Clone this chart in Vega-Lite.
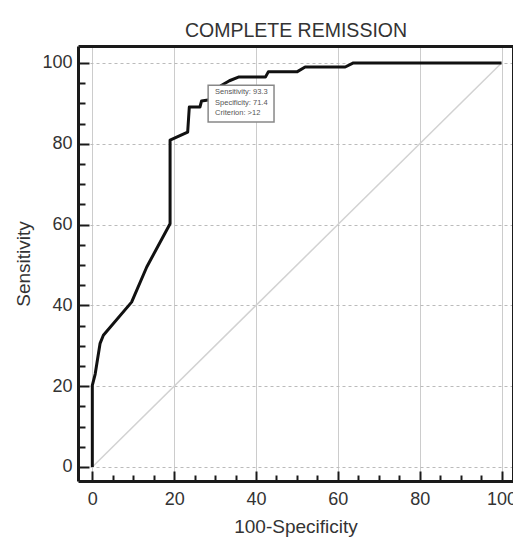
{
  "$schema": "https://vega.github.io/schema/vega-lite/v6.json",
  "autosize": "none",
  "width": 435,
  "height": 435,
  "padding": {"left": 78, "top": 46, "right": 0, "bottom": 58},
  "background": "white",
  "config": {
    "view": {"stroke": null},
    "font": "Liberation Sans"
  },
  "datasets": {
    "roc": [
      {"i": 0, "fpr": 0, "sens": 0},
      {"i": 1, "fpr": 0, "sens": 20.2},
      {"i": 2, "fpr": 0.7, "sens": 23},
      {"i": 3, "fpr": 1.9, "sens": 30.6},
      {"i": 4, "fpr": 2.7, "sens": 32.6},
      {"i": 5, "fpr": 9.6, "sens": 40.8},
      {"i": 6, "fpr": 13.3, "sens": 49.5},
      {"i": 7, "fpr": 19, "sens": 60.2},
      {"i": 8, "fpr": 19, "sens": 80.9},
      {"i": 9, "fpr": 23.3, "sens": 82.9},
      {"i": 10, "fpr": 23.7, "sens": 89.1},
      {"i": 11, "fpr": 26.3, "sens": 89.1},
      {"i": 12, "fpr": 26.7, "sens": 90.6},
      {"i": 13, "fpr": 28.7, "sens": 90.9},
      {"i": 14, "fpr": 30.5, "sens": 93.5},
      {"i": 15, "fpr": 31.6, "sens": 94.5},
      {"i": 16, "fpr": 33.5, "sens": 95.6},
      {"i": 17, "fpr": 35.7, "sens": 96.5},
      {"i": 18, "fpr": 42.3, "sens": 96.5},
      {"i": 19, "fpr": 43, "sens": 97.8},
      {"i": 20, "fpr": 50, "sens": 97.8},
      {"i": 21, "fpr": 52, "sens": 99},
      {"i": 22, "fpr": 61.8, "sens": 99},
      {"i": 23, "fpr": 63.8, "sens": 100},
      {"i": 24, "fpr": 100, "sens": 100}
    ],
    "diag": [
      {"fpr": 0, "sens": 0},
      {"fpr": 100, "sens": 100}
    ],
    "box": [
      {"x1": 28.3, "x2": 44.4, "y1": 85.4, "y2": 94.5}
    ],
    "boxText": [
      {"label": "Sensitivity: 93.3", "fpr": 30, "sens": 92.7},
      {"label": "Specificity: 71.4", "fpr": 30, "sens": 90.1},
      {"label": "Criterion: >12", "fpr": 30, "sens": 87.5}
    ]
  },
  "resolve": {"axis": {"x": "independent", "y": "independent"}},
  "layer": [
    {
      "data": {"name": "diag"},
      "mark": {"type": "line", "color": "#d2d2d2", "strokeWidth": 1.5},
      "encoding": {
        "x": {
          "field": "fpr", "type": "quantitative",
          "scale": {"domain": [-3.5, 102.8], "nice": false, "zero": false},
          "axis": {
            "orient": "bottom",
            "offset": -10,
            "title": "100-Specificity",
            "titleFontSize": 19,
            "titleFontWeight": "normal",
            "titleColor": "#333333",
            "titlePadding": 9,
            "values": [0, 20, 40, 60, 80, 100],
            "labelOverlap": false,
            "labelFontSize": 18,
            "labelColor": "#333333",
            "labelPadding": 9,
            "domain": false,
            "tickColor": "#1a1a1a",
            "tickWidth": 2,
            "tickSize": 10,
            "grid": true,
            "gridColor": "#cccccc",
            "gridWidth": 1
          }
        },
        "y": {
          "field": "sens", "type": "quantitative",
          "scale": {"domain": [-3.47, 104.2], "nice": false, "zero": false},
          "axis": {
            "orient": "left",
            "offset": -11,
            "title": "Sensitivity",
            "titleFontSize": 19,
            "titleFontWeight": "normal",
            "titleColor": "#333333",
            "titlePadding": 8,
            "values": [0, 20, 40, 60, 80, 100],
            "labelOverlap": false,
            "labelFontSize": 18,
            "labelColor": "#333333",
            "labelPadding": 6,
            "domain": false,
            "tickColor": "#1a1a1a",
            "tickWidth": 2,
            "tickSize": 11,
            "grid": true,
            "gridColor": "#bbbbbb",
            "gridDash": [3, 3],
            "gridWidth": 1
          }
        }
      }
    },
    {
      "data": {"name": "roc"},
      "mark": {"type": "line", "color": "#111111", "strokeWidth": 3, "strokeJoin": "round"},
      "encoding": {
        "x": {
          "field": "fpr", "type": "quantitative",
          "axis": {
            "orient": "bottom",
            "offset": -6,
            "title": null,
            "labels": false,
            "grid": false,
            "domain": false,
            "values": [5, 10, 15, 25, 30, 35, 45, 50, 55, 65, 70, 75, 85, 90, 95],
            "tickColor": "#1a1a1a",
            "tickWidth": 2,
            "tickSize": 6
          }
        },
        "y": {
          "field": "sens", "type": "quantitative",
          "axis": {
            "orient": "left",
            "offset": -7,
            "title": null,
            "labels": false,
            "grid": false,
            "domain": false,
            "values": [5, 10, 15, 25, 30, 35, 45, 50, 55, 65, 70, 75, 85, 90, 95],
            "tickColor": "#1a1a1a",
            "tickWidth": 2,
            "tickSize": 7
          }
        },
        "order": {"field": "i", "type": "quantitative"}
      }
    },
    {
      "data": {"name": "box"},
      "mark": {"type": "rect", "fill": "white", "stroke": "#888888", "strokeWidth": 1.5},
      "encoding": {
        "x": {
          "field": "x1", "type": "quantitative",
          "axis": {"orient": "bottom", "title": null, "labels": false, "grid": false, "tickOpacity": 0, "tickSize": 0, "values": [0], "domain": true, "domainColor": "#1a1a1a", "domainWidth": 3}
        },
        "x2": {"field": "x2"},
        "y": {
          "field": "y1", "type": "quantitative",
          "axis": {"orient": "left", "title": null, "labels": false, "grid": false, "tickOpacity": 0, "tickSize": 0, "values": [0], "domain": true, "domainColor": "#1a1a1a", "domainWidth": 3}
        },
        "y2": {"field": "y2"}
      }
    },
    {
      "data": {"name": "boxText"},
      "mark": {"type": "text", "align": "left", "baseline": "middle", "fontSize": 7.5, "color": "#555555", "font": "Liberation Sans"},
      "encoding": {
        "x": {
          "field": "fpr", "type": "quantitative",
          "axis": {
            "orient": "top",
            "title": "COMPLETE REMISSION",
            "titleFontSize": 19.5,
            "titleFontWeight": "normal",
            "titleColor": "#333333",
            "titleFont": "Liberation Sans",
            "titleBaseline": "alphabetic",
            "titlePadding": 10,
            "labels": false, "grid": false, "tickOpacity": 0, "tickSize": 0, "values": [0],
            "domain": true, "domainColor": "#1a1a1a", "domainWidth": 3
          }
        },
        "y": {
          "field": "sens", "type": "quantitative",
          "axis": {"orient": "right", "title": null, "labels": false, "grid": false, "tickOpacity": 0, "tickSize": 0, "values": [0], "domain": true, "domainColor": "#1a1a1a", "domainWidth": 3}
        },
        "text": {"field": "label"}
      }
    }
  ]
}
